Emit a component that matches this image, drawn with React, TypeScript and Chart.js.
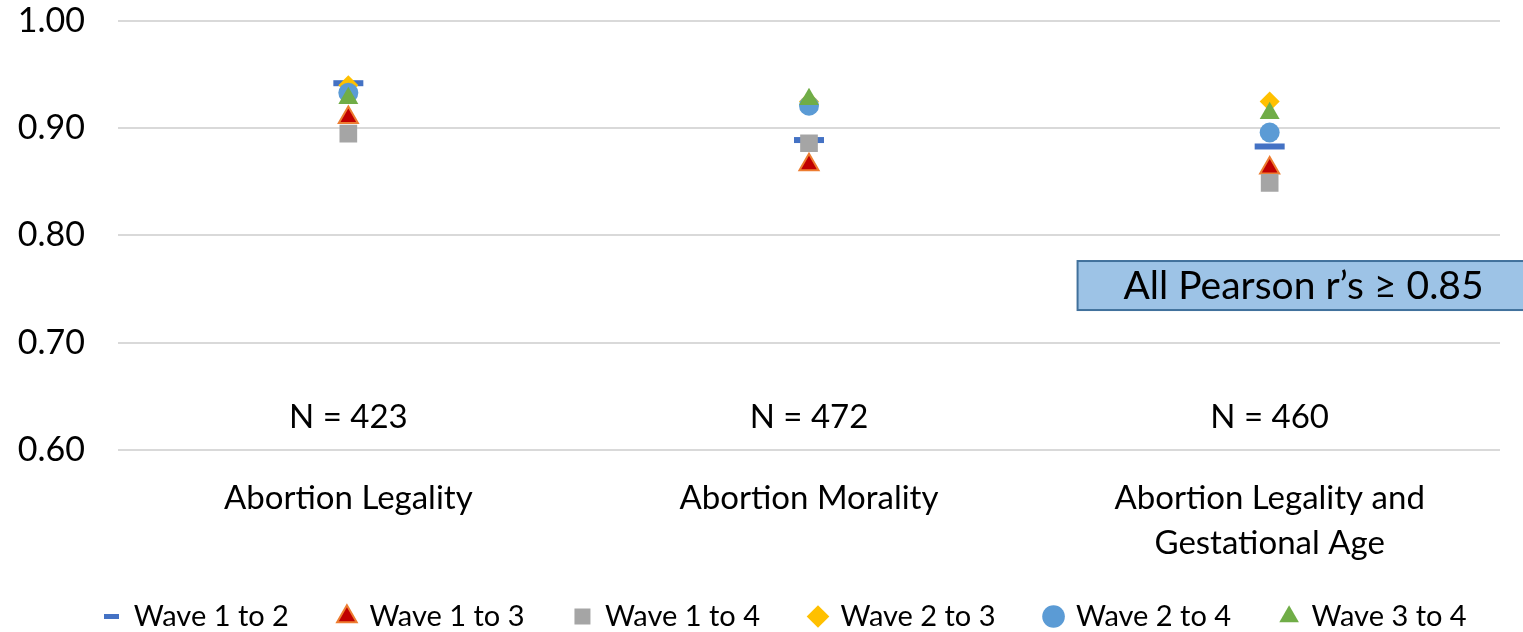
import React, { useEffect, useRef } from "react";
import { Chart, registerables } from "chart.js";

Chart.register(...registerables);

const categories: (string | string[])[] = [
  "Abortion Legality",
  "Abortion Morality",
  ["Abortion Legality and", "Gestational Age"],
];
const seriesNames = ["Wave 1 to 2", "Wave 1 to 3", "Wave 1 to 4", "Wave 2 to 3", "Wave 2 to 4", "Wave 3 to 4"];
const wave1to2 = [0.942, 0.889, 0.883];
const wave1to3 = [0.91, 0.866, 0.863];
const wave1to4 = [0.895, 0.886, 0.849];
const wave2to3 = [0.94, 0.925, 0.925];
const wave2to4 = [0.933, 0.921, 0.896];
const wave3to4 = [0.928, 0.927, 0.914];
const sampleSizes = ["N = 423", "N = 472", "N = 460"];
const sampleLabelValue = 0.63;
const yTicks = [0.6, 0.7, 0.8, 0.9, 1.0];
const noteText = "All Pearson r\u2019s \u2265 0.85";
const noteBox = { x0: 1.583, x1: 2.564, y0: 0.7305, y1: 0.7762 };

const FONT = "Lato, 'DejaVu Sans', sans-serif";
const LEGEND_TOP = 552;
const LEGEND_SHIFT_X = 35;

function makeDash(w: number, h: number, color: string) {
  const c = document.createElement("canvas");
  c.width = w;
  c.height = h;
  const ctx = c.getContext("2d")!;
  ctx.fillStyle = color;
  ctx.fillRect(0, 0, w, h);
  return c;
}

export default function App() {
  const ref = useRef<HTMLCanvasElement>(null);
  useEffect(() => {
    document.body.style.margin = "0";
    const legendDash = makeDash(15, 5, "#4472C4");
    const annot = {
      id: "annot",
      afterLayout(chart: any) {
        const lg = chart.legend;
        if (!lg) return;
        const h = lg.bottom - lg.top;
        lg.top = LEGEND_TOP;
        lg.bottom = LEGEND_TOP + h;
        lg.left += LEGEND_SHIFT_X;
        lg.right += LEGEND_SHIFT_X;
      },
      afterDraw(chart: any) {
        const { ctx, scales } = chart;
        const x = scales.x;
        const y = scales.y;
        ctx.save();
        ctx.fillStyle = "#000";
        ctx.font = `33px ${FONT}`;
        ctx.textAlign = "center";
        ctx.textBaseline = "middle";
        sampleSizes.forEach((t, i) => {
          ctx.fillText(t, x.getPixelForValue(i), y.getPixelForValue(sampleLabelValue));
        });
        const bx0 = x.getPixelForValue(noteBox.x0);
        const bx1 = x.getPixelForValue(noteBox.x1);
        const by0 = y.getPixelForValue(noteBox.y1);
        const by1 = y.getPixelForValue(noteBox.y0);
        ctx.fillStyle = "#9DC3E6";
        ctx.fillRect(bx0, by0, bx1 - bx0, by1 - by0);
        ctx.strokeStyle = "#41719C";
        ctx.lineWidth = 2;
        ctx.strokeRect(bx0, by0, bx1 - bx0, by1 - by0);
        ctx.fillStyle = "#000";
        ctx.font = `39px ${FONT}`;
        ctx.fillText(noteText, (bx0 + bx1) / 2, (by0 + by1) / 2 + 1);
        ctx.restore();
      },
    };
    const styles = [
      { pointStyle: "line", radius: 15, bg: "#4472C4", border: "#4472C4", bw: 6 },
      { pointStyle: "triangle", radius: 11, bg: "#C00000", border: "#ED7D31", bw: 2 },
      { pointStyle: "rect", radius: 12.5, bg: "#A5A5A5", border: "#A5A5A5", bw: 0 },
      { pointStyle: "rectRot", radius: 10, bg: "#FFC000", border: "#FFC000", bw: 0 },
      { pointStyle: "circle", radius: 10, bg: "#5B9BD5", border: "#5B9BD5", bw: 0 },
      { pointStyle: "triangle", radius: 11.5, bg: "#70AD47", border: "#70AD47", bw: 0 },
    ];
    const values = [wave1to2, wave1to3, wave1to4, wave2to3, wave2to4, wave3to4];
    const datasets = values.map((v, i) => ({
      label: seriesNames[i],
      data: v,
      showLine: false,
      pointStyle: styles[i].pointStyle,
      pointRadius: styles[i].radius,
      pointBackgroundColor: styles[i].bg,
      pointBorderColor: styles[i].border,
      pointBorderWidth: styles[i].bw,
      backgroundColor: styles[i].bg,
      borderColor: styles[i].border,
      borderWidth: styles[i].bw,
      order: 6 - i,
    }));
    const chart = new Chart(ref.current!, {
      type: "line",
      data: { labels: categories as any, datasets: datasets as any },
      options: {
        animation: false,
        responsive: false,
        layout: { padding: { top: 21, right: 23, left: 0, bottom: -31 } },
        plugins: {
          tooltip: { enabled: false },
          legend: {
            position: "bottom",
            labels: {
              usePointStyle: true,
              boxWidth: 16,
              boxHeight: 16,
              padding: 50,
              color: "#000",
              font: { family: FONT, size: 29 },
              generateLabels(chart: any) {
                const items = Chart.defaults.plugins.legend.labels
                  .generateLabels(chart)
                  .sort((a: any, b: any) => a.datasetIndex - b.datasetIndex);
                items.forEach((it: any) => {
                  if (it.datasetIndex === 0) it.pointStyle = legendDash;
                });
                return items;
              },
            },
          },
        },
        scales: {
          x: {
            offset: true,
            grid: { display: false },
            border: { display: false },
            ticks: {
              color: "#000",
              font: { family: FONT, size: 33, lineHeight: 1.36 },
              padding: 18,
              maxRotation: 0,
              autoSkip: false,
            },
            afterFit(scale: any) {
              scale.height = 124;
            },
          },
          y: {
            min: 0.6,
            max: 1.0,
            afterBuildTicks(scale: any) {
              scale.ticks = yTicks.map((v) => ({ value: v }));
            },
            grid: {
              color: "#D9D9D9",
              lineWidth: 2,
              drawTicks: true,
              tickLength: 33,
              tickColor: "rgba(0,0,0,0)",
            },
            border: { display: false },
            ticks: {
              color: "#000",
              font: { family: FONT, size: 34 },
              padding: 0,
              callback: (v: any) => Number(v).toFixed(2),
            },
            afterFit(scale: any) {
              scale.width = 118;
            },
          },
        },
      },
      plugins: [annot],
    } as any);
    return () => chart.destroy();
  }, []);
  return (
    <div style={{ width: 1523, height: 632, background: "#fff" }}>
      <canvas ref={ref} width={1523} height={632} />
    </div>
  );
}
